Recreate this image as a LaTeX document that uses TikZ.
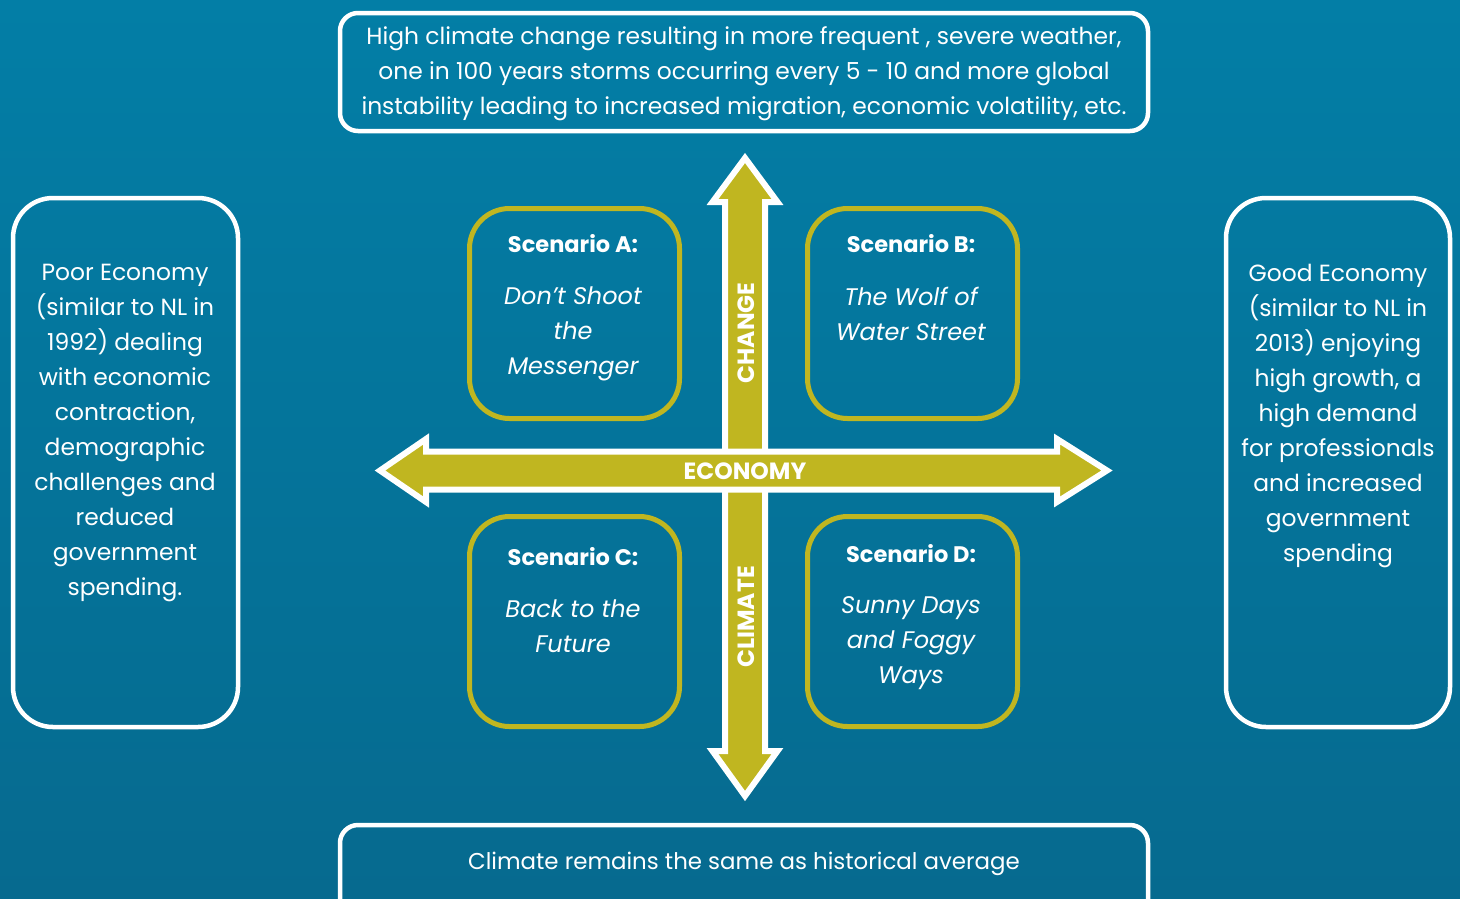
\documentclass[tikz,border=0pt]{standalone}
\usepackage{fontspec}
\setmainfont{Poppins}
\definecolor{bgtop}{RGB}{3,126,166}
\definecolor{bgbot}{RGB}{6,106,143}
\definecolor{olive}{RGB}{192,182,32}
\begin{document}
\begin{tikzpicture}[x=1pt,y=-1pt,
  wbox/.style={draw=white,line width=4.5pt},
  sbox/.style={draw=olive,line width=5pt},
  arrowshape/.style={fill=olive,draw=white,line width=6pt,line join=miter,miter limit=10},
  body/.style={text=white,align=center,inner sep=0pt,font=\fontsize{23.4}{35}\selectfont},
  stitle/.style={text=white,inner sep=0pt,font=\bfseries\fontsize{22.5}{27}\selectfont},
  sname/.style={text=white,align=center,inner sep=0pt,font=\itshape\fontsize{24}{35}\selectfont},
  axis/.style={text=white,inner sep=0pt,font=\bfseries\fontsize{23.5}{28}\selectfont}]
\useasboundingbox (0,0) rectangle (1460,898);
\shade[top color=bgtop,bottom color=bgbot] (0,0) rectangle (1460,898);
\begin{scope}
\clip (0,0) rectangle (1460,898);
% outer boxes
\draw[wbox,rounded corners=18pt] (340,13) rectangle (1148,131);
\draw[wbox,rounded corners=18pt] (340,825) rectangle (1148,930);
\draw[wbox,rounded corners=40pt] (13,198) rectangle (238,727);
\draw[wbox,rounded corners=40pt] (1226,198) rectangle (1450,727);
\end{scope}
% scenario boxes
\draw[sbox,rounded corners=40pt] (469.5,208.5) rectangle (679.5,418.5);
\draw[sbox,rounded corners=40pt] (807.5,208.5) rectangle (1017.5,418.5);
\draw[sbox,rounded corners=40pt] (469.5,516.5) rectangle (679.5,726.5);
\draw[sbox,rounded corners=40pt] (807.5,516.5) rectangle (1017.5,726.5);
% arrows
\draw[arrowshape] (745,158) -- (777.5,202) -- (765,202) -- (765,751) -- (777.5,751)
  -- (745,796) -- (712.5,751) -- (725,751) -- (725,202) -- (712.5,202) -- cycle;
\draw[arrowshape] (380,470.5) -- (426,439) -- (426,451.5) -- (1057,451.5) -- (1057,439)
  -- (1107,470.5) -- (1057,502) -- (1057,489.5) -- (426,489.5) -- (426,502) -- cycle;
\node[axis,rotate=90] (change) at (746,333) {CHANGE};
\node[axis,rotate=90] (climate) at (746,617) {CLIMATE};
\node[axis] (economy) at (745,471) {ECONOMY};
% texts
\node[body] (top) at (744,74) {High climate change resulting in more frequent , severe weather,\\one in 100 years storms occurring every 5 - 10 and more global\\instability leading to increased migration, economic volatility, etc.};
\node[body,font=\fontsize{22.9}{35}\selectfont] (bottom) at (744,864) {Climate remains the same as historical average};
\node[body] (poor) at (125,433) {Poor Economy\\(similar to NL in\\1992) dealing\\with economic\\contraction,\\demographic\\challenges and\\reduced\\government\\spending.};
\node[body] (good) at (1338,415.5) {Good Economy\\(similar to NL in\\2013) enjoying\\high growth, a\\high demand\\for professionals\\and increased\\government\\spending};
\node[stitle] (ta) at (573,244) {Scenario A:};
\node[sname] (na) at (573,334) {Don't Shoot\\the\\Messenger};
\node[stitle] (tb) at (911,244) {Scenario B:};
\node[sname] (nb) at (911,313.5) {The Wolf of\\Water Street};
\node[stitle] (tc) at (573,557) {Scenario C:};
\node[sname] (nc) at (573,626.5) {Back to the\\Future};
\node[stitle] (td) at (911,554) {Scenario D:};
\node[sname] (nd) at (911,643.5) {Sunny Days\\and Foggy\\Ways};
\end{tikzpicture}
\end{document}
